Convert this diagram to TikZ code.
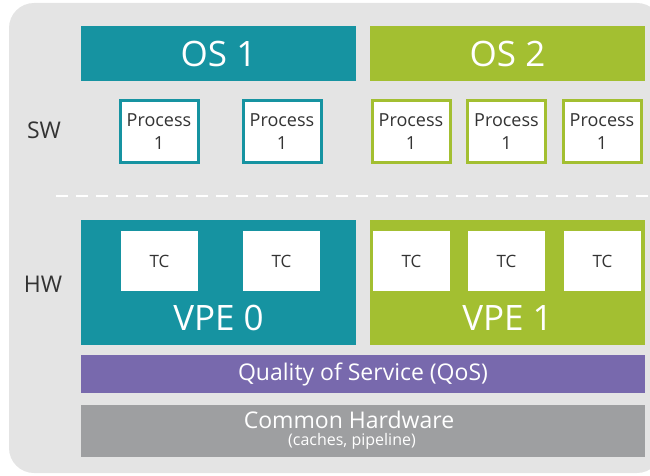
\documentclass[tikz,border=0pt]{standalone}
\usepackage{fontspec}
\setmainfont{Open Sans}
\usetikzlibrary{positioning}
\definecolor{teal1}{HTML}{1693A1}
\definecolor{green2}{HTML}{A3BF31}
\definecolor{qos}{HTML}{7869AD}
\definecolor{common}{HTML}{9E9FA1}
\definecolor{panel}{HTML}{E4E4E4}
\definecolor{ink}{HTML}{333333}

\begin{document}
\begin{tikzpicture}[
        x=1pt, y=-1pt,
        osbox/.style={rectangle, minimum width=275pt, minimum height=55pt, inner sep=0pt, text=white, font=\fontsize{35}{40}\selectfont},
        proc/.style={rectangle, draw, line width=3pt, fill=white, minimum width=78pt, minimum height=62pt, inner sep=0pt, align=center, text=ink, font=\fontsize{18}{23}\selectfont},
        vpe/.style={rectangle, minimum width=275pt, minimum height=125pt, inner sep=0pt},
        tc/.style={rectangle, fill=white, minimum width=77pt, minimum height=60pt, inner sep=0pt, text=ink, font=\fontsize{17}{18}\selectfont},
        bigtext/.style={inner sep=0pt, text=white, font=\fontsize{35}{40}\selectfont},
        layer/.style={rectangle, minimum width=564pt, inner sep=0pt, text=white},
        side/.style={inner sep=0pt, text=ink, font=\fontsize{23}{26}\selectfont},
        sep/.style={draw=white, line width=2.5pt, dash pattern=on 12pt off 8pt}
    ]
        \useasboundingbox (0,0) rectangle (650,476);
        \clip (0,0) rectangle (650,476);
        % grey panel behind everything
        \fill[panel, rounded corners=25pt] (9,3) rectangle (662,473);

        % software side
        \node[osbox, fill=teal1] (os1) at (218.5,53.5) {OS 1};
        \node[osbox, fill=green2] (os2) at (507.5,53.5) {OS 2};

        \node[proc, draw=teal1] (p1) at (159,131.5) {Process\\1};
        \node[proc, draw=teal1] (p2) at (282,131.5) {Process\\1};
        \node[proc, draw=green2] (p3) at (411,131.5) {Process\\1};
        \node[proc, draw=green2] (p4) at (506.5,131.5) {Process\\1};
        \node[proc, draw=green2] (p5) at (602,131.5) {Process\\1};

        \node[side] (sw) at (44,130) {SW};

        \coordinate (sepL) at (56,196);
        \coordinate (sepR) at (652,196);
        \draw[sep] (sepL) -- (sepR);

        % hardware side
        \node[side] (hw) at (43,284) {HW};

        \node[vpe, fill=teal1] (vpe0) at (218.5,282.5) {};
        \node[vpe, fill=green2] (vpe1) at (507.5,282.5) {};

        \node[tc] (tc1) at (159.5,261) {TC};
        \node[tc] (tc2) at (281.5,261) {TC};
        \node[tc] (tc3) at (411.5,261) {TC};
        \node[tc] (tc4) at (506.5,261) {TC};
        \node[tc] (tc5) at (602.5,261) {TC};

        \node[bigtext] (vpe0lbl) at (218.5,318) {VPE 0};
        \node[bigtext] (vpe1lbl) at (507.5,318) {VPE 1};

        \node[layer, fill=qos, minimum height=38pt, font=\fontsize{23}{26}\selectfont] (qosbar) at (363,374) {Quality of Service (QoS)};
        \node[layer, fill=common, minimum height=52pt] (hwbar) at (363,431) {};
        \node[inner sep=0pt, text=white, font=\fontsize{23}{26}\selectfont] (hwtitle) at (349,420) {Common Hardware};
        \node[below=4pt of hwtitle.south -| hwbar, xshift=-11pt, inner sep=0pt, text=white, font=\fontsize{16}{18}\selectfont] (hwsub) {(caches, pipeline)};
    \end{tikzpicture}
\end{document}
